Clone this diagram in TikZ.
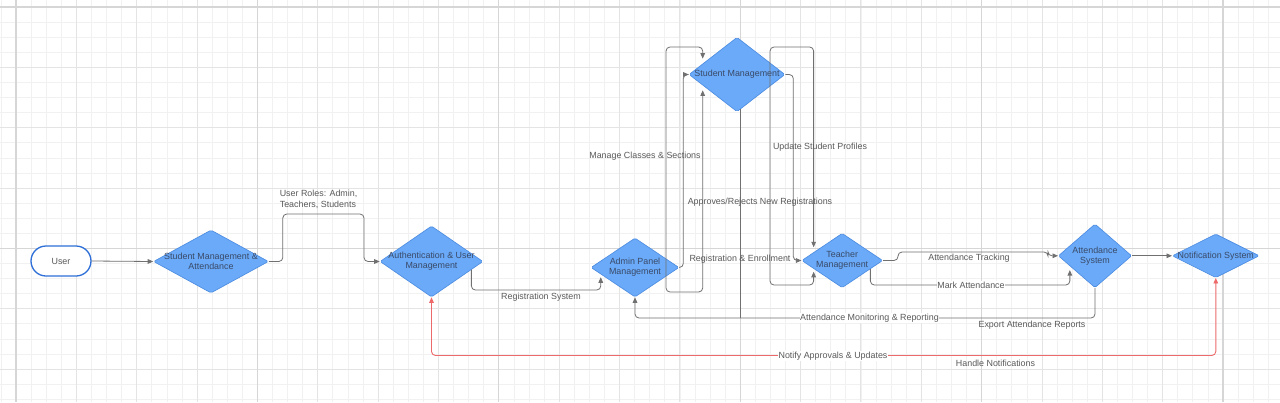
\documentclass[tikz,border=0pt]{standalone}
\usepackage{fontspec}
\setmainfont{Liberation Sans}
\usetikzlibrary{shapes.geometric,arrows.meta,calc}
\definecolor{gridminor}{HTML}{F1F1F1}
\definecolor{gridmajor}{HTML}{E4E4E4}
\definecolor{gridsuper}{HTML}{D6D6D6}
\definecolor{dfill}{HTML}{6AAAF8}
\definecolor{ddraw}{HTML}{4A8AE0}
\definecolor{dtextc}{HTML}{3A4A68}
\definecolor{lblc}{HTML}{5A5A5A}
\definecolor{linec}{HTML}{707070}
\definecolor{redc}{HTML}{EE6A6A}
\definecolor{userblue}{HTML}{2F6FD8}
\begin{document}
\begin{tikzpicture}[x=1pt,y=-1pt,
  dia/.style={diamond, fill=dfill, draw=ddraw, line width=0.6pt, inner sep=0pt, rounded corners=1.5pt},
  dtext/.style={font=\fontsize{8.9}{10.2}\selectfont, text=dtextc, align=center, inner sep=0pt},
  lbl/.style={font=\fontsize{8.9}{10.5}\selectfont, text=lblc, inner sep=0.6pt},
  inl/.style={lbl, fill=white},
  conn/.style={draw=linec, line width=0.8pt, rounded corners=4pt},
  redconn/.style={draw=redc, line width=0.9pt, rounded corners=4pt},
  tip/.style={-{Triangle[length=5.5pt,width=4.6pt]}},
  tips/.style={{Triangle[length=5.5pt,width=4.6pt]}-{Triangle[length=5.5pt,width=4.6pt]}},
  userbox/.style={rectangle, rounded corners=15pt, draw=userblue, line width=1.3pt, fill=white,
    minimum width=60pt, minimum height=30pt, inner sep=0pt, font=\fontsize{8.9}{10.5}\selectfont, text=lblc}]
\fill[white] (0,0) rectangle (1280,402);
\useasboundingbox (0,0) rectangle (1280,402);
% grid
\foreach \k in {-1,...,84} \draw[gridminor, line width=0.7pt] ({16+15.0875*\k},0) -- ({16+15.0875*\k},402);
\foreach \k in {0,...,26} \draw[gridminor, line width=0.7pt] (0,{7+15.0875*\k}) -- (1280,{7+15.0875*\k});
\foreach \k in {0,...,21} \draw[gridmajor, line width=0.9pt] ({16+60.35*\k},0) -- ({16+60.35*\k},402);
\foreach \k in {0,...,6} \draw[gridmajor, line width=0.9pt] (0,{7+60.35*\k}) -- (1280,{7+60.35*\k});
\foreach \k in {0,...,5} \draw[gridsuper, line width=1.1pt] ({16+241.4*\k},0) -- ({16+241.4*\k},402);
\foreach \k in {0,1} \draw[gridsuper, line width=1.1pt] (0,{7+241.4*\k}) -- (1280,{7+241.4*\k});

% nodes
\node[userbox] (user) at (61,261) {User};
\node[dia, minimum width=115pt, minimum height=63pt] (sma) at (211,261.5) {};
\node[dia, minimum width=103pt, minimum height=71pt] (auth) at (431.5,261.5) {};
\node[dia, minimum width=88pt, minimum height=59pt] (admin) at (635,267.5) {};
\node[dia, minimum width=96pt, minimum height=74.4pt] (sm) at (737,74.5) {};
\node[dia, minimum width=81pt, minimum height=54.4pt] (tm) at (842.2,260.5) {};
\node[dia, minimum width=73.4pt, minimum height=63.7pt] (ast) at (1095,255.8) {};
\node[dia, minimum width=87pt, minimum height=43.7pt] (ntf) at (1215.8,255.8) {};

% helper coordinates on diamond edges
\coordinate (a1) at ($(auth.east)!0.23!(auth.south)$);
\coordinate (a2) at ($(admin.west)!0.227!(admin.south)$);
\coordinate (s1) at ($(sm.west)!0.29!(sm.north)$);
\coordinate (s2) at ($(sm.west)!0.29!(sm.south)$);
\coordinate (t1) at ($(tm.west)!0.30!(tm.north)$);
\coordinate (t2) at ($(tm.west)!0.30!(tm.south)$);
\coordinate (m1) at ($(tm.east)!0.31!(tm.south)$);
\coordinate (m2) at ($(ast.west)!0.32!(ast.south)$);
\coordinate (b1) at ($(sm.south)!0.08!(sm.east)$);
\coordinate (y318) at (0,318);

% connectors
\draw[conn, tip] (user.east) -- (sma.west);
\draw[conn, tip] (sma.east) -- ++(14,0) |- (364,214) |- (auth.west);
\draw[conn, tip, shorten >=3pt] (a1) |- (540,290) -| (a2);
\draw[conn, tip] (admin.east) -- ++(4,0) |- (sm.west);
\draw[conn, tips, shorten <=5pt, shorten >=5pt] (s1) |- (666,47) |- (685,292) -| (s2);
\draw[conn, tip] (sm.east) -- ++(8,0) |- (tm.west);
\draw[conn, tips, shorten <=5pt, shorten >=3pt] (t1) |- (770,47) |- (790,285) -| (t2);
\draw[conn, tip] (tm.east) -- ++(15,0) |- (1000,252) -| ($(ast.west)+(-10,0)$) -- (ast.west);
\draw[conn, tip, shorten >=4pt] (m1) |- (970,285) -| (m2);
\draw[conn, tip] (ast.south) |- (870,318) -| (admin.south);
\draw[conn] (b1) -- (b1 |- y318);
\draw[conn, tip] (ast.east) -- (ntf.west);
\draw[redconn, tips] (ntf.south) |- (800,355.5) -| (auth.south);

% node texts
\node[dtext] at (sma) {Student Management \&\\Attendance};
\node[dtext] at (auth) {Authentication \& User\\Management};
\node[dtext] at (admin) {Admin Panel\\Management};
\node[dtext] at (sm) {Student Management};
\node[dtext] at (tm) {Teacher\\Management};
\node[dtext] at (ast) {Attendance\\System};
\node[dtext] at (ntf) {Notification System};

% connector labels
\node[lbl, align=left, anchor=west] at (279,199.5) {User Roles: Admin,\\Teachers, Students};
\node[lbl] at (541,297) {Registration System};
\node[lbl] at (645,156) {Manage Classes \& Sections};
\node[lbl] at (820,147) {Update Student Profiles};
\node[lbl] at (760,202.3) {Approves/Rejects New Registrations};
\node[lbl] at (740,259.5) {Registration \& Enrollment};
\node[lbl] at (969,258) {Attendance Tracking};
\node[inl] at (971,285) {Mark Attendance};
\node[inl] at (869.5,318) {Attendance Monitoring \& Reporting};
\node[lbl] at (1032,325) {Export Attendance Reports};
\node[inl] at (833,356) {Notify Approvals \& Updates};
\node[lbl] at (995.5,363) {Handle Notifications};
\end{tikzpicture}
\end{document}
